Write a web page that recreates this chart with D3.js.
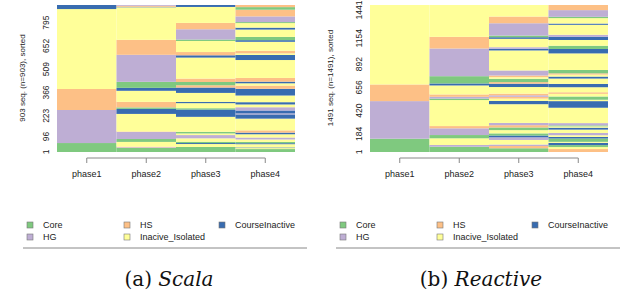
<!DOCTYPE html>
<html>
<head>
<meta charset="utf-8">
<script src="https://cdn.jsdelivr.net/npm/d3@7"></script>
<style>
body{margin:0;background:#fff;}
text{font-family:"Liberation Sans",Arial,sans-serif;}
</style>
</head>
<body>
<div id="chart"></div>
<script>
// states and colours (TraMineR / Accent palette)
var states = ["Core","HG","HS","Inacive_Isolated","CourseInactive"];
var stateCodes = ["C","G","S","I","X"];
var stateColors = ["#7FC97F","#BEAED4","#FDC086","#FFFF99","#386CB0"];
var phases = ["phase1","phase2","phase3","phase4"];

// runs of sequences per phase, from sequence 1 (bottom) upward: [state, count]
var scalaN = 903;
var scalaTicks = [1,96,223,366,509,652,795];
var scalaPhase1 = [["C",55],["G",203],["S",129],["I",491],["X",25]];
var scalaPhase2 = [["C",25],["G",4],["S",4],["I",29],["C",18],["G",43],["S",3],["I",108],["X",31],["C",9],
  ["S",34],["I",68],["X",18],["C",37],["G",166],["S",92],["I",200],["X",3],["S",6],["G",5]];
var scalaPhase3 = [["C",31],["I",18],["X",6],["C",8],["I",21],["G",20],["I",10],["C",10],["I",92],["X",45],
  ["C",8],["I",31],["X",8],["I",55],["X",33],["S",14],["C",20],["S",21],["I",129],["X",14],["S",20],["I",68],
  ["C",9],["G",63],["S",39],["I",98],["X",12]];
var scalaPhase4 = [["C",18],["I",6],["X",4],["I",20],["X",6],["C",8],["I",15],["G",12],["I",20],["X",10],
  ["S",14],["I",72],["X",26],["G",6],["X",18],["G",20],["I",17],["X",14],["I",41],["X",41],["S",20],["I",14],
  ["X",10],["S",23],["I",110],["X",31],["I",10],["S",16],["I",55],["X",10],["C",20],["I",45],["X",12],["I",28],
  ["C",6],["G",35],["S",41],["C",16],["S",13]];

var reactiveN = 1491;
var reactiveTicks = [1,184,420,656,892,1154,1441];
var reactivePhase1 = [["C",135],["G",381],["S",169],["I",806]];
var reactivePhase2 = [["C",54],["G",17],["I",68],["C",33],["G",68],["S",23],["I",264],["C",15],["G",18],["S",24],
  ["I",91],["X",20],["C",74],["G",281],["S",118],["I",323]];
var reactivePhase3 = [["C",38],["S",23],["G",15],["I",46],["G",27],["X",18],["C",22],["I",33],["C",27],["S",23],
  ["G",23],["I",190],["X",33],["I",24],["S",18],["G",15],["S",17],["I",67],["X",34],["S",16],["C",34],["I",16],
  ["S",17],["G",51],["I",203],["X",17],["G",16],["I",85],["X",16],["C",17],["G",125],["S",68],["I",117]];
var reactivePhase4 = [["S",30],["I",20],["C",20],["X",23],["I",10],["C",34],["X",16],["I",17],["G",23],["I",34],
  ["X",20],["I",13],["C",10],["G",23],["I",156],["X",67],["I",14],["C",33],["I",27],["S",16],["I",51],["X",34],
  ["I",54],["X",20],["I",20],["S",13],["C",34],["I",168],["X",45],["C",33],["I",58],["X",33],["G",20],["I",101],
  ["X",13],["I",55],["C",13],["G",68],["S",52]];

var color = d3.scaleOrdinal().domain(stateCodes).range(stateColors);

var svg = d3.select("#chart").append("svg").attr("width",623).attr("height",296);

var panels = [
  {dx:0, n:scalaN, ticks:scalaTicks, cols:[scalaPhase1,scalaPhase2,scalaPhase3,scalaPhase4], titleX:25,
   ylab:"903 seq. (n=903), sorted", cap:"(a) ", capIt:"Scala", capX:169},
  {dx:313, n:reactiveN, ticks:reactiveTicks, cols:[reactivePhase1,reactivePhase2,reactivePhase3,reactivePhase4], titleX:333,
   ylab:"1491 seq. (n=1491), sorted", cap:"(b) ", capIt:"Reactive", capX:168}
];

panels.forEach(function(p){
  var g = svg.append("g").attr("transform","translate("+p.dx+",0)");
  var x = d3.scaleBand().domain(phases).range([57,295]).padding(0);
  var y = d3.scaleLinear().domain([0,p.n]).range([152,5]);

  // stacked runs per phase column
  p.cols.forEach(function(runs,i){
    var start = 0;
    var segs = runs.map(function(r){ var s = {code:r[0], a:start, b:start+r[1]}; start += r[1]; return s; });
    g.append("g").selectAll("rect").data(segs).enter().append("rect")
      .attr("x",x(phases[i])).attr("width",x.bandwidth())
      .attr("y",function(d){ return y(d.b); })
      .attr("height",function(d){ return y(d.a)-y(d.b); })
      .attr("fill",function(d){ return color(d.code); });
  });

  // x axis, R style: line from first to last tick
  var ax = g.append("g").attr("transform","translate(0,158)")
    .call(d3.axisBottom(x).tickSize(5).tickSizeOuter(0).tickPadding(8));
  ax.select(".domain").attr("d","M"+(x(phases[0])+x.bandwidth()/2)+",0H"+(x(phases[3])+x.bandwidth()/2))
    .attr("stroke","#888");
  ax.selectAll(".tick line").attr("stroke","#888");
  ax.selectAll(".tick text").attr("font-size","9px").attr("fill","#222");

  // y tick labels, rotated
  g.selectAll(".ylab").data(p.ticks).enter().append("text")
    .attr("transform",function(d){ return "translate(49,"+y(d-0.5)+") rotate(-90)"; })
    .attr("text-anchor","middle").attr("font-size","8.5px").attr("fill","#222").text(function(d){ return d; });

  svg.append("text").attr("transform","translate("+p.titleX+",78) rotate(-90)")
    .attr("text-anchor","middle").attr("font-size","8px").attr("fill","#222").text(p.ylab);

  // legend
  var legX = [27,124,219];
  var legY = [225,237];
  states.forEach(function(s,k){
    var cx = legX[Math.floor(k/2)], cy = legY[k%2];
    g.append("rect").attr("x",cx).attr("y",cy-3).attr("width",6).attr("height",6)
      .attr("fill",stateColors[k]).attr("stroke","#777").attr("stroke-width",0.6);
    g.append("text").attr("x",cx+16).attr("y",cy+3.2).attr("font-size","9px").attr("fill","#222").text(s);
  });
  g.append("line").attr("x1",23).attr("x2",307).attr("y1",248).attr("y2",248).attr("stroke","#888");

  // caption
  var cap = g.append("text").attr("x",p.capX).attr("y",286).attr("text-anchor","middle")
    .style("font-family","'DejaVu Serif', serif").attr("font-size","20px").attr("fill","#111");
  cap.append("tspan").text(p.cap);
  cap.append("tspan").attr("font-style","italic").text(p.capIt);
});
</script>
</body>
</html>
